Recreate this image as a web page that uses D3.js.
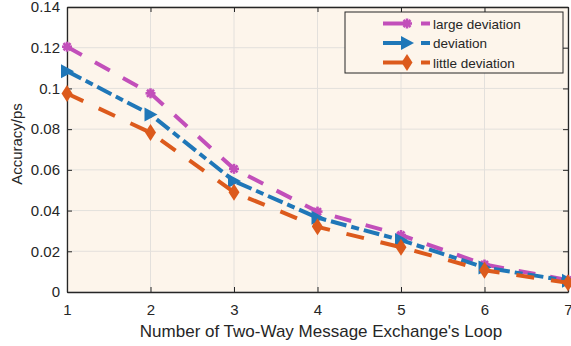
<!DOCTYPE html>
<html>
<head>
<meta charset="utf-8">
<script src="https://cdn.jsdelivr.net/npm/d3@7"></script>
<style>
  body { margin: 0; background: #fff; }
  text { font-family: "Liberation Sans", Arial, sans-serif; fill: #262626; }
</style>
</head>
<body>
<div id="canvas"></div>
<script>
const width = 571;
const height = 346;

// data
var loops = [1, 2, 3, 4, 5, 6, 7];
var largeDeviation = [0.1205, 0.0976, 0.0605, 0.0395, 0.0280, 0.0135, 0.0058];
var deviation = [0.1085, 0.0872, 0.0545, 0.0365, 0.0255, 0.0120, 0.0055];
var littleDeviation = [0.0975, 0.0783, 0.0490, 0.0320, 0.0220, 0.0107, 0.0045];
var yTicks = [0, 0.02, 0.04, 0.06, 0.08, 0.1, 0.12, 0.14];
var seriesNames = ["large deviation", "deviation", "little deviation"];

var seriesList = [
    { name: seriesNames[0], values: largeDeviation, color: "#C24FBA", dash: "17,15", marker: "star" },
    { name: seriesNames[1], values: deviation, color: "#1F77B8", dash: "16,5,8,5", marker: "triangle" },
    { name: seriesNames[2], values: littleDeviation, color: "#DC5A1C", dash: "18,17", marker: "diamond" }
];

const margin = { left: 67, right: 3, top: 7, bottom: 54 };

const svg = d3.select("#canvas")
    .append("svg")
    .attr("width", width)
    .attr("height", height);

var xScale = d3.scaleLinear()
    .domain([1, 7])
    .range([margin.left, width - margin.right]);

var yScale = d3.scaleLinear()
    .domain([0, 0.14])
    .range([height - margin.bottom, margin.top]);

// plot background
svg.append("rect")
    .attr("x", xScale(1))
    .attr("y", yScale(0.14))
    .attr("width", xScale(7) - xScale(1))
    .attr("height", yScale(0) - yScale(0.14))
    .attr("fill", "#FDF5EB");

// grid
svg.selectAll(".gx")
    .data(loops)
    .join("line")
    .attr("x1", d => xScale(d)).attr("x2", d => xScale(d))
    .attr("y1", yScale(0)).attr("y2", yScale(0.14))
    .attr("stroke", "#E3E0DC").attr("stroke-width", 1);

svg.selectAll(".gy")
    .data(yTicks)
    .join("line")
    .attr("class", "gy")
    .attr("x1", xScale(1)).attr("x2", xScale(7))
    .attr("y1", d => yScale(d)).attr("y2", d => yScale(d))
    .attr("stroke", "#E3E0DC").attr("stroke-width", 1);

// axes
var xAxis = d3.axisBottom(xScale).tickValues(loops).tickFormat(d3.format("d")).tickSizeInner(-5).tickSizeOuter(0).tickPadding(12);
var yAxis = d3.axisLeft(yScale).tickValues(yTicks).tickFormat(d => d === 0 ? "0" : d3.format("")(+d.toFixed(2))).tickSizeInner(-5).tickSizeOuter(0).tickPadding(7);

var gx = svg.append("g").attr("transform", `translate(0,${yScale(0)})`).call(xAxis);
var gy = svg.append("g").attr("transform", `translate(${xScale(1)},0)`).call(yAxis);
var gxTop = svg.append("g").attr("transform", `translate(0,${yScale(0.14)})`)
    .call(d3.axisTop(xScale).tickValues(loops).tickSizeInner(-5).tickSizeOuter(0).tickFormat(""));
var gyRight = svg.append("g").attr("transform", `translate(${xScale(7)},0)`)
    .call(d3.axisRight(yScale).tickValues(yTicks).tickSizeInner(-5).tickSizeOuter(0).tickFormat(""));

[gx, gy, gxTop, gyRight].forEach(g => {
    g.selectAll("path").attr("stroke", "#262626").attr("stroke-width", 1.3);
    g.selectAll("line").attr("stroke", "#262626");
    g.selectAll("text").attr("font-size", "15px").attr("fill", "#262626")
        .style("font-family", "'Liberation Sans', Arial, sans-serif");
});

svg.append("text")
    .attr("x", 321)
    .attr("y", 337)
    .attr("text-anchor", "middle")
    .attr("font-size", "17px")
    .text("Number of Two-Way Message Exchange's Loop");

svg.append("text")
    .attr("transform", `translate(22,144) rotate(-90)`)
    .attr("text-anchor", "middle")
    .attr("font-size", "15px")
    .text("Accuracy/ps");

// markers
function drawMarker(g, type, x, y, color) {
    if (type === "star") {
        var r = 5;
        var m = g.append("g").attr("transform", `translate(${x},${y})`);
        [0, 45, 90, 135].forEach(a => {
            var rad = a * Math.PI / 180;
            m.append("line")
                .attr("x1", -r * Math.cos(rad)).attr("y1", -r * Math.sin(rad))
                .attr("x2", r * Math.cos(rad)).attr("y2", r * Math.sin(rad))
                .attr("stroke", color).attr("stroke-width", 2.6);
        });
        m.append("circle").attr("r", 3).attr("fill", color);
    } else if (type === "triangle") {
        g.append("path")
            .attr("d", "M7,0L-6,-7L-6,7Z")
            .attr("transform", `translate(${x},${y})`)
            .attr("fill", color);
    } else {
        g.append("path")
            .attr("d", "M0,-8.5L5.5,0L0,8.5L-5.5,0Z")
            .attr("transform", `translate(${x},${y})`)
            .attr("fill", color);
    }
}

var line = d3.line()
    .x((d, i) => xScale(loops[i]))
    .y(d => yScale(d));

seriesList.forEach(s => {
    svg.append("path")
        .datum(s.values)
        .attr("d", line)
        .attr("fill", "none")
        .attr("stroke", s.color)
        .attr("stroke-width", 4)
        .attr("stroke-dasharray", s.dash);
    var mg = svg.append("g");
    s.values.forEach((v, i) => drawMarker(mg, s.marker, xScale(loops[i]), yScale(v), s.color));
});

// legend
var legend = svg.append("g");
legend.append("rect")
    .attr("x", 345).attr("y", 12)
    .attr("width", 218).attr("height", 61)
    .attr("fill", "#FDF5EB")
    .attr("stroke", "#262626").attr("stroke-width", 1);

seriesList.forEach((s, i) => {
    var ly = 23.5 + i * 19.5;
    legend.append("line")
        .attr("x1", 383).attr("x2", 407)
        .attr("y1", ly).attr("y2", ly)
        .attr("stroke", s.color).attr("stroke-width", 4);
    legend.append("line")
        .attr("x1", 421).attr("x2", 430)
        .attr("y1", ly).attr("y2", ly)
        .attr("stroke", s.color).attr("stroke-width", 4);
    drawMarker(legend, s.marker, 407, ly, s.color);
    legend.append("text")
        .attr("x", 433).attr("y", ly + 5)
        .attr("font-size", "13.5px")
        .text(s.name);
});
</script>
</body>
</html>
